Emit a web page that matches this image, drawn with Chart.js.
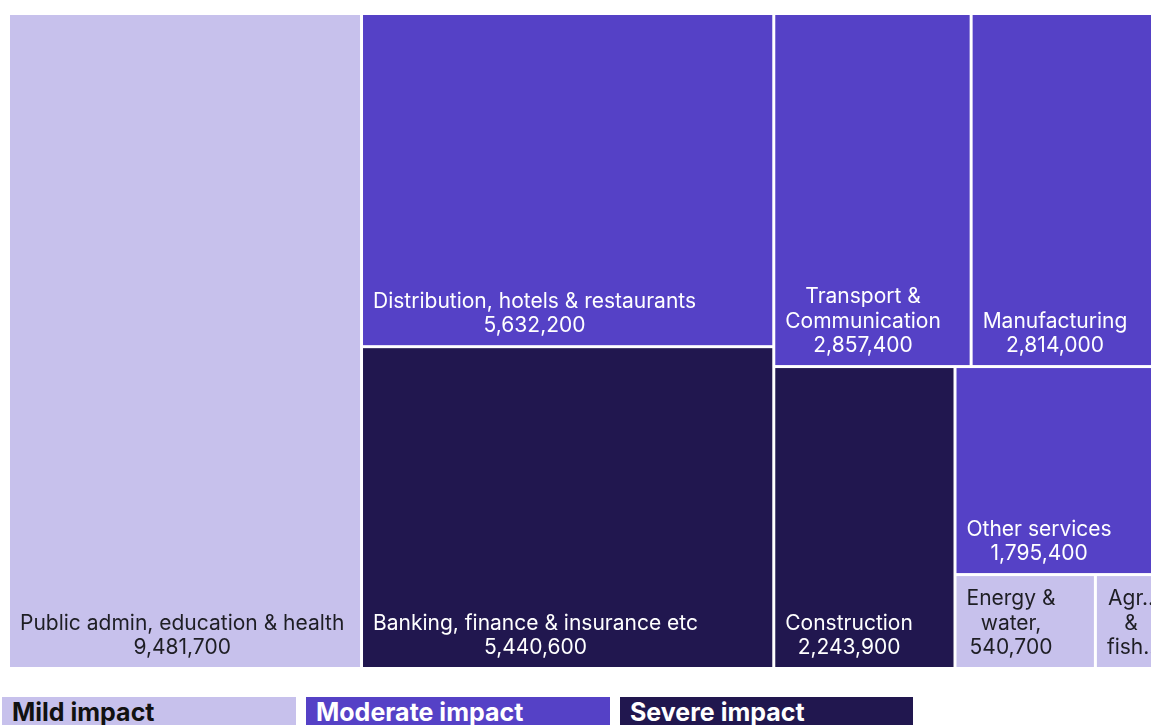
<!DOCTYPE html>
<html>
<head>
<meta charset="utf-8">
<script src="https://cdn.jsdelivr.net/npm/chart.js@4.4.1/dist/chart.umd.min.js"></script>
<style>
	body { margin: 0; background: #fff; overflow: hidden; font-family: Inter, "Noto Sans", sans-serif; }
	#wrap { position: relative; width: 1168px; height: 670px; }
	#impact-legend { display: flex; margin: 27px 0 0 2px; }
	.key { height: 34px; margin-right: 10px; padding-left: 10px; box-sizing: border-box;
		font: 700 25px/30px Inter, sans-serif; white-space: nowrap; }
</style>
</head>
<body>
<div id="wrap"><canvas id="tree_chart" width="1168" height="670"></canvas></div>
<div id="impact-legend"></div>
<script>
// workforce jobs by industry, coloured by how hard each was hit
const sectors = [
	'Public admin, education & health',
	'Distribution, hotels & restaurants',
	'Banking, finance & insurance etc',
	'Transport & Communication',
	'Manufacturing',
	'Construction',
	'Other services',
	'Energy & water,',
	'Agriculture & fishing',
];
const workers = [9481700, 5632200, 5440600, 2857400, 2814000, 2243900, 1795400, 540700, 270000];
const impact = ['Mild', 'Moderate', 'Severe', 'Moderate', 'Moderate', 'Severe', 'Moderate', 'Mild', 'Mild'];
const impactLevels = ['Mild', 'Moderate', 'Severe'];
const impactColors = { Mild: '#c7c1ec', Moderate: '#5541c6', Severe: '#21174f' };
const textColors = { Mild: '#1e1e24', Moderate: '#ffffff', Severe: '#ffffff' };
const keyWidths = { Mild: 294, Moderate: 304, Severe: 293 };

const GAP = 3;
const PAD = 10;
const PAD_RIGHT = 6;
const LINE_H = 24.5;
const LABEL_FONT = '21px Inter, sans-serif';

const fmt = (n) => String(n).replace(/\B(?=(\d{3})+(?!\d))/g, ',');

// squarified layout (same row rule as d3.treemapSquarify with ratio 1)
function squarify(values, w, h) {
	const rects = [];
	let x0 = 0, y0 = 0, x1 = w, y1 = h;
	let value = values.reduce((a, b) => a + b, 0);
	let i0 = 0, i1 = 0;
	const n = values.length;
	while (i0 < n) {
		const dx = x1 - x0, dy = y1 - y0;
		let sum = values[i1++], min = sum, max = sum;
		const alpha = Math.max(dy / dx, dx / dy) / value;
		let beta = sum * sum * alpha;
		let minRatio = Math.max(max / beta, beta / min);
		for (; i1 < n; ++i1) {
			const v = values[i1];
			sum += v;
			if (v < min) min = v;
			if (v > max) max = v;
			beta = sum * sum * alpha;
			const r = Math.max(max / beta, beta / min);
			if (r > minRatio) { sum -= v; break; }
			minRatio = r;
		}
		const row = values.slice(i0, i1);
		if (dx < dy) {
			// row across the top
			const yy = y0 + dy * sum / value;
			let xx = x0;
			row.forEach(v => { const ww = dx * v / sum; rects.push({ x0: xx, x1: xx + ww, y0: y0, y1: yy }); xx += ww; });
			y0 = yy;
		} else {
			// column down the left
			const xx = x0 + dx * sum / value;
			let yy = y0;
			row.forEach(v => { const hh = dy * v / sum; rects.push({ x0: x0, x1: xx, y0: yy, y1: yy + hh }); yy += hh; });
			x0 = xx;
		}
		value -= sum;
		i0 = i1;
	}
	return rects;
}

function fitWord(ctx, word, maxW) {
	if (ctx.measureText(word).width <= maxW) return word;
	let s = word;
	while (s.length > 1 && ctx.measureText(s + '..').width > maxW) s = s.slice(0, -1);
	return s + '..';
}

function wrapWords(ctx, words, maxW) {
	const lines = [];
	let cur = '';
	words.forEach(w => {
		const t = cur ? cur + ' ' + w : w;
		if (ctx.measureText(t).width <= maxW) {
			cur = t;
		} else {
			if (cur) lines.push(cur);
			cur = fitWord(ctx, w, maxW);
		}
	});
	if (cur) lines.push(cur);
	return lines;
}

function drawLabel(ctx, i, left, top, right, bottom) {
	ctx.font = LABEL_FONT;
	const maxW = right - left - PAD - PAD_RIGHT;
	let lines = wrapWords(ctx, sectors[i].split(' '), maxW);
	lines.push(...wrapWords(ctx, [fmt(workers[i])], maxW));
	const maxLines = Math.floor((bottom - top - 10) / LINE_H);
	lines = lines.slice(0, maxLines);
	const blockW = Math.max(...lines.map(l => ctx.measureText(l).width));
	const cx = left + PAD + blockW / 2;
	ctx.fillStyle = textColors[impact[i]];
	ctx.textAlign = 'center';
	ctx.textBaseline = 'alphabetic';
	lines.forEach((l, k) => {
		ctx.fillText(l, cx, bottom - 13 - (lines.length - 1 - k) * LINE_H);
	});
}

const treemapTiles = {
	id: 'treemapTiles',
	afterDatasetsDraw(chart) {
		const { ctx, chartArea: ca, scales: { x, y } } = chart;
		const aspect = ca.width / ca.height;
		const rects = squarify(workers, aspect, 1);
		ctx.save();
		rects.forEach((r, i) => {
			const left = x.getPixelForValue(r.x0 / aspect) + GAP / 2;
			const right = x.getPixelForValue(r.x1 / aspect) - GAP / 2;
			const top = y.getPixelForValue(r.y0) + GAP / 2;
			const bottom = y.getPixelForValue(r.y1) - GAP / 2;
			ctx.fillStyle = impactColors[impact[i]];
			ctx.fillRect(left, top, right - left, bottom - top);
			ctx.save();
			ctx.beginPath();
			ctx.rect(left, top, right - left, bottom - top);
			ctx.clip();
			drawLabel(ctx, i, left, top, right, bottom);
			ctx.restore();
		});
		ctx.restore();
	}
};

const chartOptions = {
	responsive: false,
	animation: false,
	layout: {
		padding: { left: 8.5, top: 13.5, right: 2.5, bottom: 1.5 },
	},
	scales: {
		x: { type: 'linear', min: 0, max: 1, display: false },
		y: { type: 'linear', min: 0, max: 1, reverse: true, display: false },
	},
	plugins: {
		legend: { display: false },
		tooltip: { enabled: false },
	},
};

const treeChart = new Chart(document.getElementById('tree_chart'), {
	type: 'scatter',
	data: { datasets: [{ label: 'Workforce jobs', data: [] }] },
	options: chartOptions,
	plugins: [treemapTiles],
});

// impact key under the chart
const legendEl = document.getElementById('impact-legend');
impactLevels.forEach(lvl => {
	const d = document.createElement('div');
	d.className = 'key';
	d.style.width = keyWidths[lvl] + 'px';
	d.style.background = impactColors[lvl];
	d.style.color = lvl === 'Mild' ? '#111' : '#fff';
	d.textContent = lvl + ' impact';
	legendEl.appendChild(d);
});
</script>
</body>
</html>
